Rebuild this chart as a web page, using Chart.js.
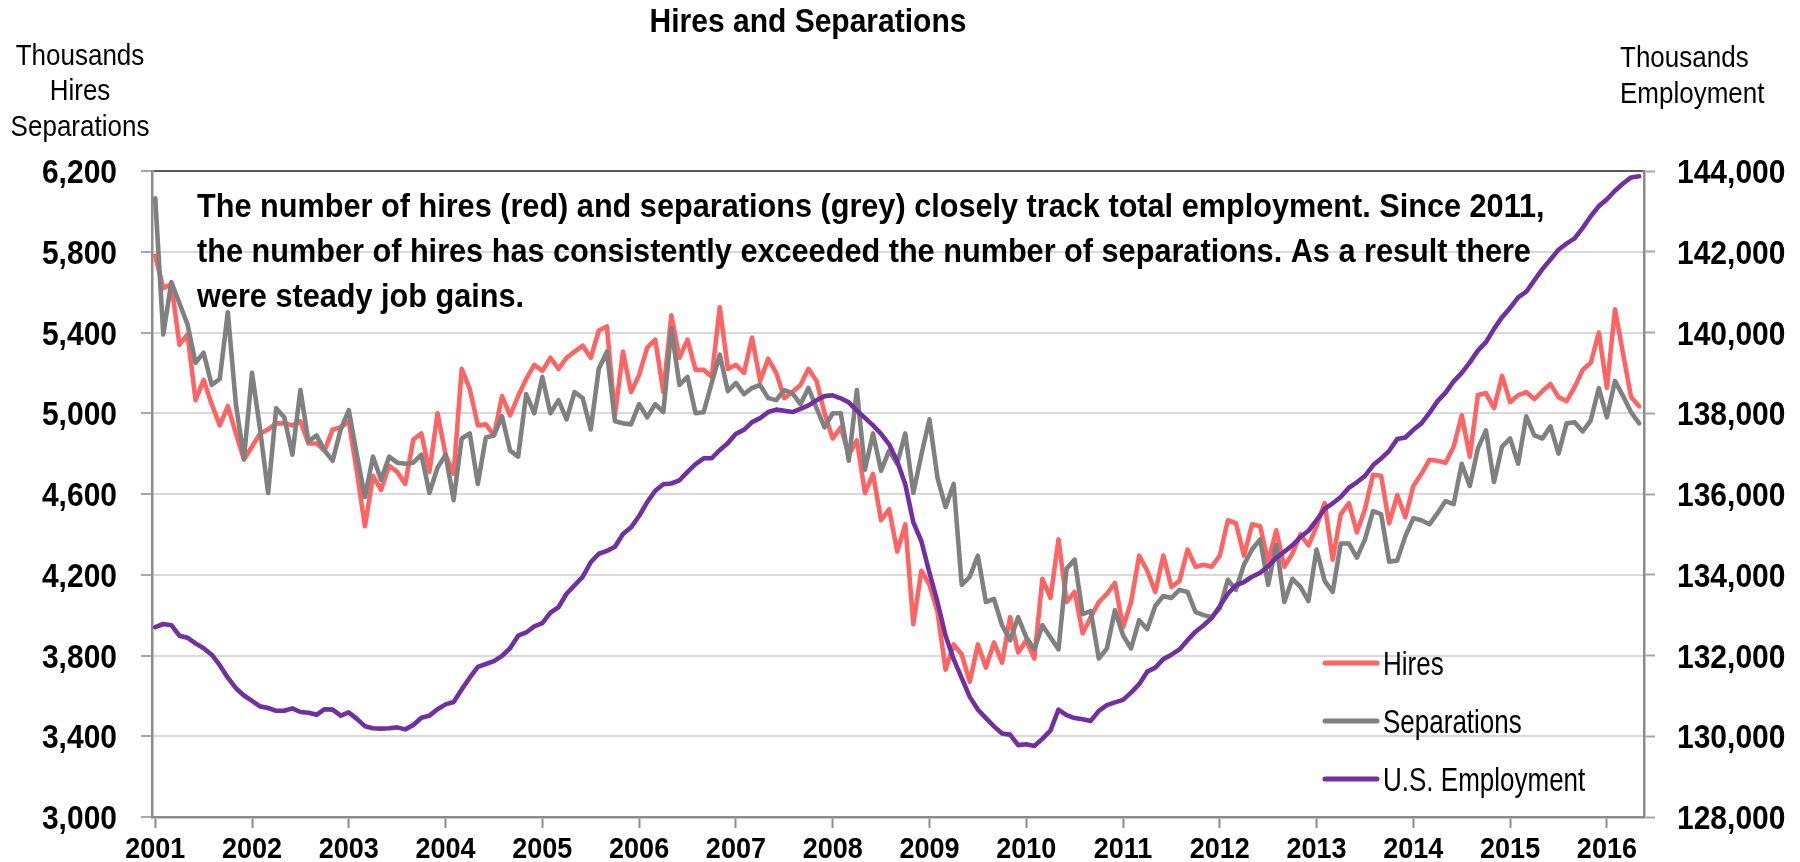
<!DOCTYPE html>
<html>
<head>
<meta charset="utf-8">
<title>Hires and Separations</title>
<script src="https://cdn.jsdelivr.net/npm/chart.js@4.4.1/dist/chart.umd.min.js"></script>
<style>
  html, body { margin: 0; padding: 0; background: #fff; }
  #wrap { width: 1800px; height: 862px; }
</style>
</head>
<body>
<div id="wrap"><canvas id="chart" width="1800" height="862"></canvas></div>
<script>
// monthly series, Jan 2001 .. May 2016 (thousands)
const yearLabels = ["2001", "2002", "2003", "2004", "2005", "2006", "2007", "2008",
  "2009", "2010", "2011", "2012", "2013", "2014", "2015", "2016"];

const hires = [
  5780, 5620, 5640, 5340, 5390, 5065, 5165, 5045, 4940, 5035, 4900, 4770,
  4835, 4900, 4920, 4950, 4950, 4940, 4960, 4850, 4850, 4815, 4920, 4930,
  4960, 4710, 4440, 4690, 4620, 4740, 4710, 4650, 4870, 4900, 4710, 5000,
  4795, 4700, 5220, 5120, 4940, 4945, 4890, 5085, 4990, 5085, 5170, 5240,
  5210, 5275, 5220, 5275, 5305, 5335, 5275, 5410, 5430, 4990, 5305, 5105,
  5190, 5325, 5365, 5105, 5485, 5275, 5365, 5215, 5215, 5180, 5525, 5220,
  5240, 5200, 5375, 5160, 5270, 5200, 5075, 5105, 5140, 5220, 5160, 5000,
  4875, 4930, 4795, 4865, 4605, 4700, 4470, 4525, 4315, 4450, 3955, 4220,
  4150, 4015, 3730, 3855, 3805, 3670, 3855, 3740, 3865, 3765, 3990, 3815,
  3875, 3785, 4180, 4085, 4375, 4065, 4115, 3910, 3990, 4065, 4105, 4160,
  3940, 4065, 4295, 4220, 4115, 4295, 4140, 4170, 4325, 4240, 4250, 4240,
  4295, 4470, 4455, 4295, 4450, 4440, 4265, 4420, 4240, 4305, 4400, 4345,
  4440, 4555, 4275, 4500, 4555, 4410, 4525, 4695, 4690, 4455, 4595, 4485,
  4640, 4700, 4770, 4765, 4755, 4835, 4990, 4785, 5090, 5100, 5025, 5185,
  5055, 5090, 5105, 5070, 5110, 5145, 5080, 5060, 5130, 5215, 5250, 5400,
  5125, 5515, 5295, 5080, 5035
];

const separations = [
  6065, 5390, 5650, 5545, 5440, 5250, 5300, 5140, 5170, 5500, 5045, 4775,
  5200, 4920, 4605, 5025, 4980, 4795, 5115, 4860, 4890, 4815, 4765, 4920,
  5015, 4795, 4585, 4785, 4670, 4785, 4755, 4750, 4755, 4795, 4605, 4730,
  4795, 4570, 4875, 4900, 4650, 4880, 4890, 4985, 4815, 4785, 5095, 5000,
  5180, 5000, 5065, 4970, 5105, 5075, 4920, 5220, 5305, 4960, 4950, 4945,
  5045, 4980, 5045, 5005, 5420, 5140, 5180, 5000, 5005, 5150, 5290, 5110,
  5150, 5095, 5125, 5140, 5075, 5065, 5115, 5100, 5045, 5125, 5025, 4930,
  5000, 5000, 4765, 5115, 4720, 4900, 4715, 4815, 4750, 4900, 4605, 4795,
  4970, 4680, 4535, 4650, 4150, 4190, 4295, 4065, 4080, 3950, 3875, 3990,
  3890, 3830, 3950, 3890, 3830, 4230, 4275, 4005, 4020, 3785, 3835, 4025,
  3900, 3835, 3975, 3930, 4045, 4095, 4085, 4125, 4115, 4015, 4000, 3990,
  4035, 4175, 4125, 4250, 4325, 4375, 4150, 4350, 4065, 4180, 4140, 4070,
  4325, 4170, 4115, 4355, 4355, 4285, 4375, 4515, 4500, 4265, 4270, 4390,
  4480, 4470, 4450, 4505, 4565, 4550, 4750, 4640, 4825, 4915, 4660, 4835,
  4875, 4750, 4985, 4890, 4875, 4935, 4800, 4950, 4955, 4910, 4965, 5125,
  4980, 5160, 5085, 5005, 4950
];

const employment = [
  132700, 132780, 132750, 132490, 132440, 132300, 132180, 132020, 131760, 131450, 131190, 131010,
  130875, 130740, 130700, 130630, 130630, 130690, 130600, 130580, 130530, 130670, 130660, 130510,
  130590, 130430, 130250, 130200, 130190, 130200, 130220, 130170, 130280, 130460, 130510, 130670,
  130790, 130850, 131160, 131450, 131720, 131790, 131860, 131990, 132180, 132490, 132570, 132720,
  132800, 133060, 133195, 133530, 133740, 133945, 134310, 134520, 134590, 134695, 135010, 135175,
  135455, 135800, 136080, 136240, 136260, 136340, 136550, 136740, 136885, 136885, 137090, 137260,
  137490, 137590, 137780, 137880, 138030, 138090, 138060, 138030, 138110, 138195, 138320, 138425,
  138445, 138370, 138270, 138060, 137885, 137700, 137490, 137230, 136810, 136240, 135300, 134830,
  134050, 133320, 132490, 131910, 131440, 130975, 130660, 130450, 130245, 130070, 130040, 129780,
  129800, 129760, 129935, 130140, 130660, 130525, 130450, 130420, 130380, 130630, 130770, 130840,
  130900, 131080, 131290, 131600, 131700, 131910, 132020, 132150, 132380, 132590, 132750, 132930,
  133220, 133530, 133740, 133820, 133950, 134050, 134210, 134420, 134570, 134730, 134935, 135090,
  135350, 135630, 135770, 135925, 136155, 136290, 136450, 136710, 136880, 137070, 137360, 137400,
  137590, 137750, 138010, 138300, 138510, 138790, 139000, 139260, 139550, 139760, 140090, 140380,
  140610, 140870, 141010, 141290, 141570, 141810, 142050, 142200, 142330, 142590, 142880, 143130,
  143300, 143510, 143690, 143840, 143870
];

const noteLines = [
  "The number of hires (red) and separations (grey) closely track total employment. Since 2011,",
  "the number of hires has consistently exceeded the number of separations. As a result there",
  "were steady job gains."
];

const FONT = '"Liberation Sans", Arial, sans-serif';
const RED = "#FF6464";
const GREY = "#808080";
const PURPLE = "#7030A0";

// x = month index counted from Jan 2001
const toPoints = (arr) => arr.map((v, i) => ({ x: i, y: v }));

// the original's lettering is a little taller than it is wide
function tallText(ctx, str, x, y, stretch) {
  ctx.save();
  ctx.translate(x, y);
  ctx.scale(1, stretch);
  ctx.fillText(str, 0, 0);
  ctx.restore();
}

const fmt = (v) => v.toLocaleString("en-US");

const decorations = {
  id: "decorations",
  afterDraw(chart) {
    const ctx = chart.ctx;
    const { x, y, y1 } = chart.scales;
    ctx.save();
    ctx.fillStyle = "#000";
    ctx.textBaseline = "alphabetic";

    // tick labels
    ctx.font = "bold 30px " + FONT;
    ctx.textAlign = "right";
    y.ticks.forEach((t) => tallText(ctx, fmt(t.value), 117, y.getPixelForValue(t.value) + 12, 1.12));
    ctx.textAlign = "left";
    y1.ticks.forEach((t) => tallText(ctx, fmt(t.value), 1677, y1.getPixelForValue(t.value) + 12, 1.12));
    ctx.font = "bold 27px " + FONT;
    ctx.textAlign = "center";
    x.ticks.forEach((t) => tallText(ctx, yearLabels[Math.round(t.value / 12)], x.getPixelForValue(t.value), 858, 1.12));

    // title
    ctx.font = "bold 30px " + FONT;
    tallText(ctx, "Hires and Separations", 808, 32, 1.1);

    // axis titles
    ctx.font = "26px " + FONT;
    tallText(ctx, "Thousands", 80, 65, 1.15);
    tallText(ctx, "Hires", 80, 100, 1.15);
    tallText(ctx, "Separations", 80, 136, 1.15);
    ctx.textAlign = "left";
    tallText(ctx, "Thousands", 1620, 67, 1.15);
    tallText(ctx, "Employment", 1620, 103, 1.15);

    // note text, sized so the first line spans like the original
    ctx.font = "bold 30px " + FONT;
    const w = ctx.measureText(noteLines[0]).width;
    const size = (30 * 1348 / w).toFixed(2);
    ctx.font = "bold " + size + "px " + FONT;
    noteLines.forEach((line, k) => tallText(ctx, line, 197, 217 + k * 45, 1.06));

    // legend
    ctx.font = "26px " + FONT;
    chart.data.datasets.forEach((ds, k) => {
      const ly = 663 + k * 58;
      ctx.strokeStyle = ds.borderColor;
      ctx.lineWidth = 5;
      ctx.lineCap = "round";
      ctx.beginPath();
      ctx.moveTo(1325, ly);
      ctx.lineTo(1377, ly);
      ctx.stroke();
      tallText(ctx, ds.label, 1383, ly + 12, 1.28);
    });
    ctx.restore();
  }
};

const hidden = "rgba(0,0,0,0)";
const tickFont = { family: FONT, size: 30, weight: "bold" };

new Chart(document.getElementById("chart"), {
  type: "line",
  data: {
    datasets: [
      { label: "Hires", data: toPoints(hires), borderColor: RED, yAxisID: "y", order: 3 },
      { label: "Separations", data: toPoints(separations), borderColor: GREY, yAxisID: "y", order: 2 },
      { label: "U.S. Employment", data: toPoints(employment), borderColor: PURPLE, yAxisID: "y1", order: 1 }
    ]
  },
  options: {
    responsive: false,
    devicePixelRatio: 1,
    animation: false,
    layout: { padding: { top: 171, left: 0, right: 0, bottom: 0 } },
    elements: {
      point: { radius: 0 },
      line: { borderWidth: 4.6, tension: 0, borderJoinStyle: "round", borderCapStyle: "round" }
    },
    plugins: {
      legend: { display: false },
      tooltip: { enabled: false },
      title: { display: false }
    },
    scales: {
      x: {
        type: "linear",
        min: -0.4,
        max: 184.6,
        afterBuildTicks(scale) {
          scale.ticks = yearLabels.map((_, k) => ({ value: k * 12 }));
        },
        afterFit(scale) { scale.height = 45; },
        ticks: {
          font: { family: FONT, size: 27, weight: "bold" },
          color: hidden,
          padding: 5,
          maxRotation: 0,
          autoSkip: false,
          callback: (v) => yearLabels[Math.round(v / 12)]
        },
        grid: {
          drawOnChartArea: false,
          drawTicks: true,
          tickLength: 11,
          tickColor: "#8C8C8C",
          tickWidth: 2
        },
        border: { color: "#8C8C8C", width: 2.5 }
      },
      y: {
        position: "left",
        min: 3000,
        max: 6200,
        afterFit(scale) { scale.width = 152; },
        ticks: { stepSize: 400, font: tickFont, color: hidden, padding: 24, callback: fmt },
        grid: {
          color: (c) => (c.tick && c.tick.value === 6200 ? "#5A5A5A" : "#D9D9D9"),
          lineWidth: 2,
          tickLength: 11,
          tickColor: "#A6A6A6",
          tickWidth: 2
        },
        border: { color: "#8C8C8C", width: 2.5 }
      },
      y1: {
        position: "right",
        min: 128000,
        max: 144000,
        afterFit(scale) { scale.width = 156; },
        ticks: { stepSize: 2000, font: tickFont, color: hidden, padding: 22, callback: fmt },
        grid: {
          drawOnChartArea: false,
          tickLength: 11,
          tickColor: "#A6A6A6",
          tickWidth: 2
        },
        border: { color: "#8C8C8C", width: 2.5 }
      }
    }
  },
  plugins: [decorations]
});
</script>
</body>
</html>
